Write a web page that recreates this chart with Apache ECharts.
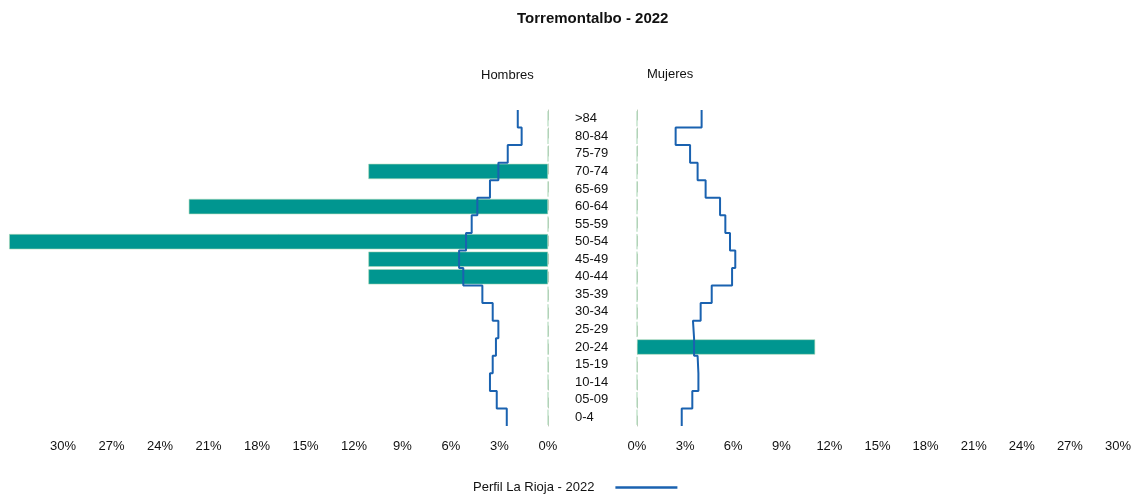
<!DOCTYPE html>
<html>
<head>
<meta charset="utf-8">
<script src="https://cdn.jsdelivr.net/npm/echarts@6/dist/echarts.min.js"></script>
<style>
  html, body { margin: 0; padding: 0; background: #fff; }
  #chart { width: 1139px; height: 494px; }
</style>
</head>
<body>
<div id="chart"></div>
<script>
// grupos de edad, de abajo (0-4) a arriba (>84)
const ageGroups = ["0-4", "05-09", "10-14", "15-19", "20-24", "25-29", "30-34", "35-39", "40-44",
    "45-49", "50-54", "55-59", "60-64", "65-69", "70-74", "75-79", "80-84", ">84"];

// % de población del municipio
const hombres = [0, 0, 0, 0, 0, 0, 0, 0, 11.11, 11.11, 33.33, 0, 22.22, 0, 11.11, 0, 0, 0];
const mujeres = [0, 0, 0, 0, 11.11, 0, 0, 0, 0, 0, 0, 0, 0, 0, 0, 0, 0, 0];

// perfil La Rioja - 2022 (%)
const riojaHombres = [2.55, 3.17, 3.59, 3.42, 3.22, 3.07, 3.42, 4.06, 5.24,
    5.50, 5.07, 4.72, 4.37, 3.59, 3.07, 2.49, 1.63, 1.87];
const riojaMujeres = [2.79, 3.45, 3.83, 3.78, 3.56, 3.49, 3.97, 4.66, 5.93,
    6.13, 5.80, 5.51, 5.18, 4.28, 3.78, 3.31, 2.41, 4.03];

const tickStep = 3;
const axisMax = 30;

const barColor = "#009690";
const lineColor = "#1a62b0";
const fontFamily = "Liberation Sans, Arial, sans-serif";

// escalones: cada valor cubre toda la banda de su grupo
function stepData(values) {
    const out = [];
    values.forEach(function (v, i) {
        out.push([v, i - 0.5]);
        out.push([v, i + 0.5]);
    });
    return out;
}

const chart = echarts.init(document.getElementById("chart"));

const xAxisCommon = {
    type: "value",
    min: 0,
    max: axisMax,
    interval: tickStep,
    axisLine: { show: false },
    axisTick: { show: false },
    splitLine: { show: false },
    axisLabel: {
        formatter: "{value}%",
        color: "#111",
        fontSize: 13,
        fontFamily: fontFamily,
        margin: 14,
    },
};

const option = {
    backgroundColor: "#fff",
    animation: false,
    textStyle: { fontFamily: fontFamily },
    title: [
        {
            text: "Torremontalbo - 2022",
            left: 512,
            top: 6,
            textStyle: { fontSize: 15, fontWeight: "bold", color: "#111", fontFamily: fontFamily },
        },
        {
            text: "Hombres",
            left: 476,
            top: 64,
            textStyle: { fontSize: 13, fontWeight: "normal", color: "#111", fontFamily: fontFamily },
        },
        {
            text: "Mujeres",
            left: 642,
            top: 63,
            textStyle: { fontSize: 13, fontWeight: "normal", color: "#111", fontFamily: fontFamily },
        },
    ],
    legend: {
        data: [{ name: "Perfil La Rioja - 2022", icon: "rect" }],
        left: 468,
        top: 476,
        align: "right",
        itemWidth: 62,
        itemHeight: 2.5,
        itemGap: 10,
        textStyle: { fontSize: 13, color: "#111", fontFamily: fontFamily, padding: [0, 16, 0, 0] },
    },
    grid: [
        { left: 63, width: 485, top: 110, height: 316 },
        { left: 637, width: 481, top: 110, height: 316 },
    ],
    xAxis: [
        Object.assign({}, xAxisCommon, { gridIndex: 0, inverse: true }),
        Object.assign({}, xAxisCommon, { gridIndex: 1 }),
    ],
    yAxis: [
        {
            type: "category",
            gridIndex: 0,
            position: "right",
            data: ageGroups,
            axisTick: { show: false },
            axisLine: { lineStyle: { color: "#bfcdbb", type: [10, 8], width: 1 } },
            axisLabel: { color: "#111", fontSize: 13, margin: 27, fontFamily: fontFamily, padding: [3, 0, 0, 0] },
        },
        {
            type: "category",
            gridIndex: 1,
            data: ageGroups,
            axisTick: { show: false },
            axisLine: { lineStyle: { color: "#bfcdbb", type: [10, 8], width: 1 } },
            axisLabel: { show: false },
        },
        {
            type: "value",
            gridIndex: 0,
            min: -0.5,
            max: ageGroups.length - 0.5,
            show: false,
        },
        {
            type: "value",
            gridIndex: 1,
            min: -0.5,
            max: ageGroups.length - 0.5,
            show: false,
        },
    ],
    series: [
        {
            name: "Hombres",
            type: "bar",
            xAxisIndex: 0,
            yAxisIndex: 0,
            data: hombres,
            barWidth: "87%",
            clip: false,
            itemStyle: { color: barColor, borderColor: "#a9d6b5", borderWidth: 0.6 },
        },
        {
            name: "Mujeres",
            type: "bar",
            xAxisIndex: 1,
            yAxisIndex: 1,
            data: mujeres,
            barWidth: "87%",
            clip: false,
            itemStyle: { color: barColor, borderColor: "#a9d6b5", borderWidth: 0.6 },
        },
        {
            name: "Perfil La Rioja - 2022",
            type: "line",
            xAxisIndex: 0,
            yAxisIndex: 2,
            data: stepData(riojaHombres),
            symbol: "none",
            lineStyle: { color: lineColor, width: 2 },
            itemStyle: { color: lineColor },
            z: 5,
        },
        {
            name: "Perfil La Rioja - 2022",
            type: "line",
            xAxisIndex: 1,
            yAxisIndex: 3,
            data: stepData(riojaMujeres),
            symbol: "none",
            lineStyle: { color: lineColor, width: 2 },
            itemStyle: { color: lineColor },
            z: 5,
        },
    ],
};

chart.setOption(option);

window.addEventListener("resize", function () {
    chart.resize();
});
</script>
</body>
</html>
